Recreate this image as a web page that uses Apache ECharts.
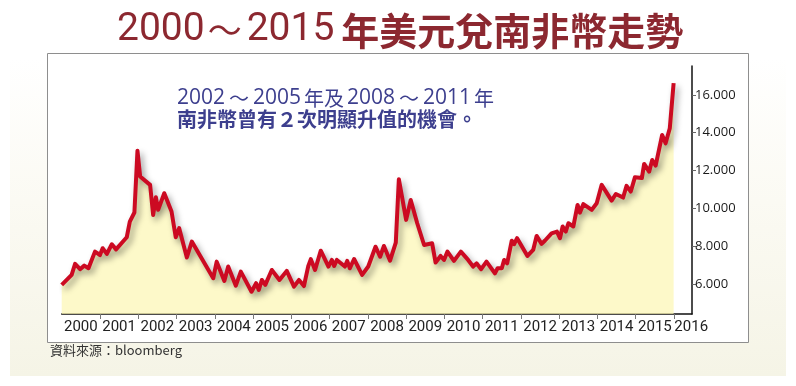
<!DOCTYPE html>
<html><head><meta charset="utf-8">
<script src="https://cdn.jsdelivr.net/npm/echarts@6/dist/echarts.min.js"></script>
<style>html,body{margin:0;padding:0;background:#fff}#c{width:796px;height:386px}</style>
</head><body><div id="c"></div>
<script>
// Position in years since 2000 (decimal) and USD/ZAR rate
const yearPos = [0.00,0.26,0.35,0.48,0.59,0.70,0.87,1.00,1.07,1.18,1.31,1.42,1.70,1.78,1.90,1.98,2.05,2.31,2.39,2.46,2.52,2.68,2.87,2.98,3.07,3.27,3.40,3.96,4.05,4.25,4.35,4.55,4.68,4.96,5.08,5.15,5.23,5.32,5.49,5.69,5.88,6.07,6.20,6.33,6.44,6.51,6.62,6.77,6.97,7.06,7.12,7.19,7.40,7.46,7.53,7.64,7.85,8.01,8.20,8.32,8.42,8.58,8.73,8.81,9.00,9.12,9.29,9.47,9.68,9.77,9.90,9.99,10.08,10.25,10.43,10.62,10.75,10.84,10.96,11.10,11.32,11.39,11.50,11.56,11.64,11.76,11.82,11.90,12.17,12.32,12.41,12.54,12.63,12.80,12.94,13.02,13.09,13.17,13.24,13.37,13.48,13.54,13.63,13.85,13.98,14.11,14.37,14.48,14.67,14.76,14.87,14.98,15.16,15.22,15.35,15.43,15.52,15.69,15.78,15.89,15.93,15.99];
const usdZar = [5.95,6.48,7.06,6.78,6.97,6.83,7.71,7.53,7.89,7.59,8.10,7.83,8.47,9.30,9.78,13.05,11.68,11.24,9.65,10.59,9.92,10.80,9.83,8.47,8.95,7.40,8.24,6.30,7.18,6.16,6.92,5.91,6.65,5.59,6.04,5.68,6.21,5.95,6.74,6.21,6.69,5.86,6.21,5.89,6.92,7.31,6.74,7.76,6.92,7.27,6.95,7.27,6.92,7.22,6.83,7.32,6.48,6.92,7.97,7.44,8.01,7.23,8.19,11.54,9.39,10.44,9.21,8.06,8.15,7.13,7.48,7.27,7.71,7.22,7.71,7.27,6.92,7.09,6.78,7.18,6.56,6.83,6.83,7.27,7.09,8.29,8.10,8.42,7.48,7.80,8.54,8.12,8.30,8.68,8.77,8.42,9.04,8.77,9.21,9.04,10.18,9.77,10.22,9.92,10.27,11.24,10.41,10.76,10.57,11.19,10.89,11.65,11.60,12.35,11.94,12.56,12.26,13.88,13.44,14.24,15.20,16.62];
const yearLabels = ['2000','2001','2002','2003','2004','2005','2006','2007','2008','2009','2010','2011','2012','2013','2014','2015','2016'];
const yTicks = [6,8,10,12,14,16];

const labelPos = yearLabels.map((s, i) => i < 16 ? i + 0.5 : 16.45);
const tickPos = yearLabels.slice(1).map((s, i) => i + 1);
const seriesData = yearPos.map((t, i) => [t, usdZar[i]]);

const chart = echarts.init(document.getElementById('c'));
chart.setOption({
  animation: false,
  backgroundColor: '#ffffff',
  graphic: [
    { type: 'rect', z: -10, shape: { x: 10, y: 58, width: 776, height: 318 },
      style: { fill: new echarts.graphic.LinearGradient(0, 0, 0, 1, [
        { offset: 0, color: '#ffffff' }, { offset: 0.45, color: '#fbfaf3' }, { offset: 1, color: '#f5f4e6' }]) } },
    { type: 'rect', z: -9, shape: { x: 47.5, y: 53.5, width: 701, height: 289 },
      style: { fill: '#ffffff', stroke: '#8e8e8e', lineWidth: 1 } }
  ],
  title: [
    { text: '{d|2000}{t|～}{d|2015}{c|年美元兌南非幣走勢}', left: 112, top: 6,
      textStyle: { fontWeight: 'normal', rich: {
        d: { fontFamily: "'Liberation Sans Narrow','Roboto'", fontWeight: 'normal', fontSize: 39, color: '#8c2830' },
        t: { fontFamily: "'Noto Sans CJK TC'", fontWeight: 'normal', fontSize: 34, color: '#8c2830', padding: [0, 5, 0, 3] },
        c: { fontFamily: "'Noto Sans CJK TC'", fontWeight: 'bold', fontSize: 38, color: '#8c2830', padding: [0, 0, 0, 7] }
      } } },
    { text: '{n|2002}{s|～}{n|2005}{c|年及}{n|2008}{s|～}{n|2011}{c|年}\n{b|南非幣曾有２次明顯升值的機會。}', left: 172, top: 83,
      textStyle: { fontWeight: 'normal', rich: {
        n: { fontFamily: "'Open Sans'", fontWeight: 'normal', fontSize: 21, color: '#3d3f8e', lineHeight: 21 },
        s: { fontFamily: "'Noto Sans CJK TC'", fontWeight: 'normal', fontSize: 20, color: '#3d3f8e', lineHeight: 21, padding: [0, 4, 0, 4] },
        c: { fontFamily: "'Noto Sans CJK TC'", fontWeight: 'normal', fontSize: 20, color: '#3d3f8e', lineHeight: 21, padding: [0, 3, 0, 3] },
        b: { fontFamily: "'Noto Sans CJK TC'", fontWeight: 'bold', fontSize: 20, color: '#3d3f8e', lineHeight: 21 }
      } } },
    { text: '資料來源：bloomberg', left: 45, top: 339,
      textStyle: { fontFamily: "'Noto Sans CJK TC'", fontWeight: 'normal', fontSize: 13, color: '#333' } }
  ],
  grid: { left: 61.7, right: 104, top: 66, bottom: 72, containLabel: false },
  xAxis: {
    type: 'value', min: 0, max: 16.47,
    axisLine: { show: true, onZero: false, lineStyle: { color: '#111', width: 1.5 } },
    axisTick: { show: true, length: 5, lineStyle: { color: '#777' }, customValues: tickPos },
    axisLabel: { customValues: labelPos, margin: 6, fontFamily: "'Liberation Sans Narrow','Roboto'", fontSize: 15, color: '#222',
      formatter: v => yearLabels[Math.round(v - 0.5)] },
    splitLine: { show: false }
  },
  yAxis: {
    type: 'value', position: 'right', min: 4.41, max: 17.53,
    axisLine: { show: true, onZero: false, lineStyle: { color: '#111', width: 1.5 } },
    axisTick: { show: true, length: 4, lineStyle: { color: '#666' }, customValues: yTicks },
    axisLabel: { customValues: yTicks, margin: 3, fontFamily: "'Open Sans'", fontSize: 13, color: '#1a1a1a',
      formatter: v => v.toFixed(3) },
    splitLine: { show: false }
  },
  series: [{
    type: 'line', data: seriesData, showSymbol: false, symbol: 'none',
    lineStyle: { color: '#cc0a22', width: 4, join: 'round', shadowColor: 'rgba(0,0,0,0.38)', shadowBlur: 6, shadowOffsetX: 3, shadowOffsetY: 4 },
    areaStyle: { color: '#fcf6b2', origin: 'start' }
  }]
});
</script></body></html>
